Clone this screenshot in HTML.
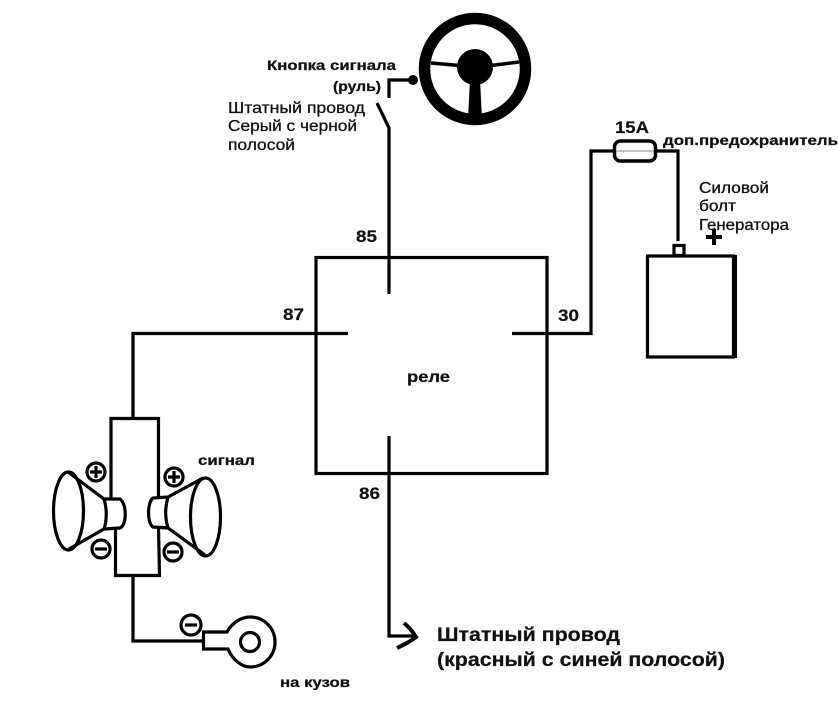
<!DOCTYPE html>
<html lang="ru">
<head>
<meta charset="utf-8">
<title>Схема реле сигнала</title>
<style>
html,body{margin:0;padding:0;background:#fff;width:838px;height:710px;overflow:hidden}
svg{display:block}
text{font-family:"Liberation Sans",sans-serif;fill:#111}
.b{font-weight:bold;stroke:#111;stroke-width:.25px}
.r{stroke:#111;stroke-width:.3px}
.n{font-size:16.500px;font-weight:bold;stroke:#111;stroke-width:.2px}
</style>
</head>
<body>
<svg width="838" height="710" viewBox="0 0 838 710" xmlns="http://www.w3.org/2000/svg">
<g fill="none" stroke="#000" stroke-width="3.200">
  <!-- steering wheel -->
  <circle cx="475" cy="69" r="50.500" stroke-width="11.500"/>
  <path d="M431 63L465 66M487 66L519 62" stroke-width="3.500"/>
  <path d="M470 80L468 118H482L480 80Z" fill="#000" stroke="none"/>
  <circle cx="475" cy="67" r="18" fill="#000" stroke="none"/>
  <!-- switch -->
  <path d="M389 98V80H412"/>
  <circle cx="413" cy="80" r="5" fill="#000" stroke="none"/>
  <path d="M377 103L389 128V294"/>
  <!-- relay -->
  <rect x="316" y="257.500" width="231" height="216"/>
  <path d="M389 436V636H415"/>
  <path d="M133 418V333.500H348"/>
  <path d="M512 333.500H591V151H614M655 151H678V241"/>
  <path d="M404 623C409 627 413 632 416 637C410 642 403 645 397 648" stroke-width="4"/>
  <!-- fuse -->
  <rect x="614.500" y="141" width="41" height="20" rx="6" fill="#fff" stroke-width="3.500"/>
  <path d="M616 151H654" stroke="#888" stroke-width="1"/>
  <!-- battery -->
  <rect x="647.500" y="256" width="86" height="101"/>
  <path d="M734.500 255V358" stroke-width="5"/>
  <rect x="674" y="245.500" width="10" height="10"/>
  <path d="M714 229V245M706 237H722" stroke-width="4"/>
  <!-- horn box -->
  <path d="M111 498V418.500H158.500V497M158.500 527L159.500 575.500H115.500V529"/>
  <path d="M133 418V410M133 575V641H203"/>
  <!-- left horn -->
  <ellipse cx="68.500" cy="511" rx="15" ry="39"/>
  <path d="M68 472L104 499H120C127 504 127 525 120 528L104 529L69 549"/>
  <path d="M104 499C107 508 107 520 104 529"/>
  <!-- right horn -->
  <ellipse cx="205.500" cy="517" rx="15" ry="39"/>
  <path d="M203 478L168 497L153 498C147 503 147 523 153 527L168 528L205 555"/>
  <path d="M168 497C165 507 165 518 168 528"/>
  <!-- polarity -->
  <circle cx="96" cy="472" r="9"/><path d="M90 472H102M96 466V478"/>
  <circle cx="101" cy="549" r="9"/><path d="M95 549H107"/>
  <circle cx="174" cy="477" r="9"/><path d="M168 477H180M174 471V483"/>
  <circle cx="173" cy="552" r="9"/><path d="M167 552H179"/>
  <circle cx="191" cy="625" r="10"/><path d="M185 625H197"/>
  <!-- ground lug -->
  <path d="M227 632H203.500V649H228C233 661 243 667 250 667C264 667 275 656 275 642C275 628 264 617 250 617C241 617 232 623 227 632Z"/>
  <circle cx="250" cy="642" r="9.500"/>
</g>
<text class="b" x="267" y="70" font-size="13.500" textLength="129" lengthAdjust="spacingAndGlyphs">Кнопка сигнала</text>
<text class="b" x="333" y="91" font-size="13.500" textLength="48" lengthAdjust="spacingAndGlyphs">(руль)</text>
<text class="r" x="228" y="113" font-size="16" textLength="137" lengthAdjust="spacingAndGlyphs">Штатный провод</text>
<text class="r" x="228" y="131" font-size="16" textLength="129" lengthAdjust="spacingAndGlyphs">Серый с черной</text>
<text class="r" x="228" y="150" font-size="16" textLength="67" lengthAdjust="spacingAndGlyphs">полосой</text>
<text class="n" x="356" y="242" textLength="21" lengthAdjust="spacingAndGlyphs">85</text>
<text class="n" x="283" y="320" textLength="21" lengthAdjust="spacingAndGlyphs">87</text>
<text class="n" x="558" y="321" textLength="21" lengthAdjust="spacingAndGlyphs">30</text>
<text class="n" x="359" y="499" textLength="21" lengthAdjust="spacingAndGlyphs">86</text>
<text class="b" x="407" y="382" font-size="15.500" textLength="43" lengthAdjust="spacingAndGlyphs">реле</text>
<text class="n" x="615" y="133" textLength="34" lengthAdjust="spacingAndGlyphs">15A</text>
<text class="b" x="663" y="145" font-size="14" textLength="175" lengthAdjust="spacingAndGlyphs">доп.предохранитель</text>
<text class="r" x="699" y="193" font-size="15.500" textLength="70" lengthAdjust="spacingAndGlyphs">Силовой</text>
<text class="r" x="699" y="211" font-size="15.500" textLength="37" lengthAdjust="spacingAndGlyphs">болт</text>
<text class="r" x="699" y="230" font-size="15.500" textLength="90" lengthAdjust="spacingAndGlyphs">Генератора</text>
<text class="b" x="198" y="465" font-size="13.500" textLength="57" lengthAdjust="spacingAndGlyphs">сигнал</text>
<text class="b" x="280" y="687" font-size="13.500" textLength="70" lengthAdjust="spacingAndGlyphs">на кузов</text>
<text class="b" x="437" y="641" font-size="19.500" textLength="183" lengthAdjust="spacingAndGlyphs">Штатный провод</text>
<text class="b" x="437" y="666" font-size="19.500" textLength="288" lengthAdjust="spacingAndGlyphs">(красный с синей полосой)</text>
</svg>
</body>
</html>
